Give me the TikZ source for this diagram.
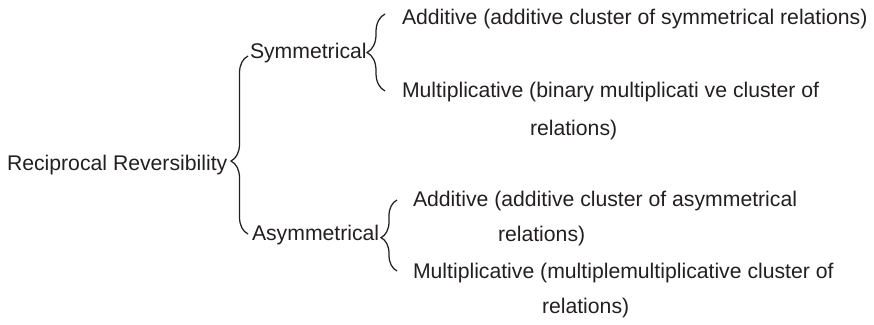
\documentclass[tikz,border=0pt]{standalone}
\usepackage{fontspec}
\setmainfont{Liberation Sans}
\usetikzlibrary{decorations.pathreplacing}

\definecolor{ink}{HTML}{231F20}

\tikzset{
  label/.style={anchor=base west, inner sep=0pt, outer sep=0pt, text=ink,
    font=\fontsize{21.2}{25}\selectfont},
  curly/.style={draw=ink, line width=1.25pt,
    decorate, decoration={brace, amplitude=#1}},
  curly/.default=17pt
}

\begin{document}
\begin{tikzpicture}[x=1pt, y=-1pt]
  \useasboundingbox (0,0) rectangle (874,324);

  % root and first level
  \node[label] (root) at (7,170) {Reciprocal Reversibility};
  \node[label] (sym)  at (250,58) {Symmetrical};
  \node[label] (asym) at (252,240) {Asymmetrical};

  % symmetrical branch
  \node[label] (symadd) at (402,24) {Additive (additive cluster of symmetrical relations)};
  \node[label] (symmul) at (402,97) {Multiplicative (binary multiplicati ve cluster of};
  \node[label] (symmul2) at (530,135) {relations)};

  % asymmetrical branch
  \node[label] (asyadd) at (413,206) {Additive (additive cluster of asymmetrical};
  \node[label] (asyadd2) at (498,241) {relations)};
  \node[label] (asymul) at (413,278) {Multiplicative (multiplemultiplicative cluster of};
  \node[label] (asymul2) at (542,313) {relations)};

  % brace end points
  \coordinate (rootT) at (248,56);
  \coordinate (rootB) at (248,234);
  \coordinate (symT) at (385,14);
  \coordinate (symB) at (385,91);
  \coordinate (asyT) at (397,200);
  \coordinate (asyB) at (397,271);

  % braces (drawn bottom to top so the tip points left)
  \draw[curly, decoration={aspect=0.41}] (rootB) -- (rootT);
  \draw[curly=18pt] (symB) -- (symT);
  \draw[curly=16pt, decoration={aspect=0.47}] (asyB) -- (asyT);
\end{tikzpicture}
\end{document}
